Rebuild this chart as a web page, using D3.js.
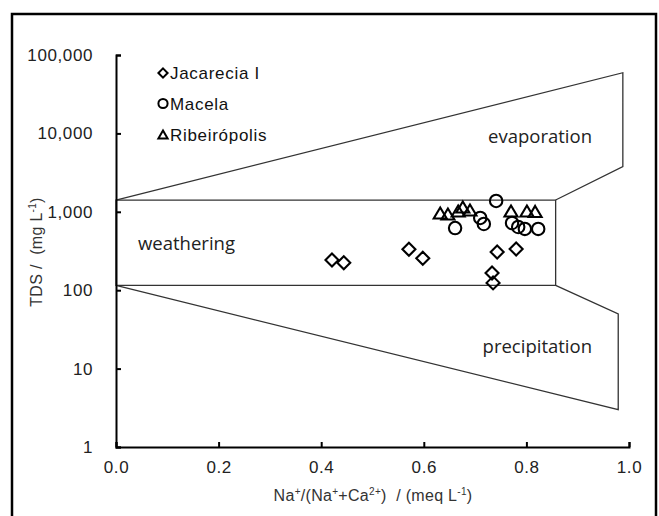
<!DOCTYPE html>
<html>
<head>
<meta charset="utf-8">
<script src="https://cdn.jsdelivr.net/npm/d3@7"></script>
<style>
  body { margin: 0; background: #fff; }
  text { font-family: Arial, "Liberation Sans", sans-serif; white-space: pre; }
</style>
</head>
<body>
<script>
// Gibbs diagram data
const seriesNames = ["Jacarecia I", "Macela", "Ribeirópolis"];
const jacareciaX = [0.421, 0.444, 0.571, 0.598, 0.733, 0.735, 0.743, 0.780];
const jacareciaTDS = [243, 224, 332, 255, 166, 124, 307, 336];
const macelaX = [0.661, 0.710, 0.717, 0.741, 0.772, 0.784, 0.797, 0.823];
const macelaTDS = [621, 834, 699, 1374, 720, 640, 604, 604];
const ribeiroX = [0.632, 0.647, 0.667, 0.676, 0.690, 0.770, 0.801, 0.817];
const ribeiroTDS = [966, 938, 1024, 1151, 1054, 1024, 1024, 1010];

// zone boundaries
const evapX = [0, 0.988, 0.988, 0.857];
const evapTDS = [1413, 59400, 3760, 1413];
const boxX = [0, 0.857, 0.857, 0];
const boxTDS = [1413, 1413, 115, 115];
const precX = [0, 0.979, 0.979, 0.857];
const precTDS = [115, 3.0, 50, 115];

const xTicks = [0, 0.2, 0.4, 0.6, 0.8, 1.0];
const yTicks = [1, 10, 100, 1000, 10000, 100000];
const zoneLabels = ["evaporation", "weathering", "precipitation"];

const w = 659, h = 516;
const svg = d3.select("body").append("svg").attr("width", w).attr("height", h);

// outer frame
svg.append("rect")
  .attr("x", 12).attr("y", 14).attr("width", 644).attr("height", 520)
  .attr("fill", "none").attr("stroke", "#000").attr("stroke-width", 2.5);

const x = d3.scaleLinear().domain([0, 1]).range([116, 629]);
const y = d3.scaleLog().domain([1, 100000]).range([447, 55]);

//Zone outlines
const line = d3.line().x(d => x(d[0])).y(d => y(d[1]));
[[evapX, evapTDS, false], [boxX, boxTDS, true], [precX, precTDS, false]].forEach(z => {
  const pts = z[0].map((v, i) => [v, z[1][i]]);
  svg.append("path")
    .attr("d", line(pts) + (z[2] ? "Z" : ""))
    .attr("fill", "none").attr("stroke", "#333").attr("stroke-width", 1.3);
});

// axes
const xAxis = svg.append("g")
  .attr("transform", "translate(0,447)")
  .call(d3.axisBottom(x).tickValues(xTicks).tickSize(-5).tickPadding(14).tickFormat(d3.format(".1f")));
const yAxis = svg.append("g")
  .attr("transform", "translate(116,0)")
  .call(d3.axisLeft(y).tickValues(yTicks).tickSize(-5).tickPadding(23).tickFormat(d3.format(",")));
[xAxis, yAxis].forEach(a => {
  a.select(".domain").attr("stroke", "#000").attr("stroke-width", 2);
  a.selectAll(".tick line").attr("stroke", "#000").attr("stroke-width", 2);
  a.selectAll(".tick text").attr("fill", "#222").style("font-size", "17px").style("font-family", "Arial");
});
xAxis.selectAll(".tick text").attr("dy", "0.71em").style("letter-spacing", "0.6px");
yAxis.selectAll(".tick text").style("letter-spacing", "0.6px");

// markers
function markerPath(type, s) {
  if (type == 0) return `M0,${-s}L${s},0L0,${s}L${-s},0Z`;
  if (type == 1) return `M${s},0A${s},${s} 0 1,1 ${-s},0A${s},${s} 0 1,1 ${s},0Z`;
  return `M0,${-s * 0.85}L${s},${s * 0.85}L${-s},${s * 0.85}Z`;
}
const series = [[jacareciaX, jacareciaTDS], [macelaX, macelaTDS], [ribeiroX, ribeiroTDS]];
const sizes = [6.5, 6.2, 6.5];
series.forEach((s, k) => {
  svg.append("g").selectAll("path")
    .data(s[0].map((v, i) => ({x: v, tds: s[1][i]})))
    .enter().append("path")
      .attr("d", markerPath(k, sizes[k]))
      .attr("transform", d => `translate(${x(d.x)},${y(d.tds)})`)
      .attr("fill", "none").attr("stroke", "#000").attr("stroke-width", 2.1);
});

// legend
const legY = [73, 103.5, 134.5];
seriesNames.forEach((n, k) => {
  svg.append("path")
    .attr("d", markerPath(k, 4.6))
    .attr("transform", `translate(163,${legY[k]})`)
    .attr("fill", "none").attr("stroke", "#000").attr("stroke-width", 2);
  svg.append("text")
    .attr("x", 170).attr("y", legY[k]).attr("dy", "0.36em")
    .style("font-size", "17px").style("letter-spacing", "0.7px").attr("fill", "#111")
    .text(n);
});

// zone labels
const zoneFont = "'Open Sans', 'Noto Sans', sans-serif";
svg.append("text").attr("x", 592).attr("y", 143).attr("text-anchor", "end")
  .style("font-family", zoneFont).style("font-size", "18.5px").attr("fill", "#222").text(zoneLabels[0]);
svg.append("text").attr("x", 138).attr("y", 250)
  .style("font-family", zoneFont).style("font-size", "18.5px").attr("fill", "#222").text(zoneLabels[1]);
svg.append("text").attr("x", 592).attr("y", 353).attr("text-anchor", "end")
  .style("font-family", zoneFont).style("font-size", "18.5px").attr("fill", "#222").text(zoneLabels[2]);

// axis titles with superscripts
function richText(sel, parts) {
  parts.forEach(p => {
    const t = sel.append("tspan").text(p[0]);
    if (p[1]) t.attr("dy", -6).style("font-size", "10px");
    else t.attr("dy", p[2] ? 6 : 0);
  });
}
const xTitle = svg.append("text").attr("x", 373).attr("y", 501).attr("text-anchor", "middle")
  .style("font-size", "16px").style("letter-spacing", "0.3px").attr("fill", "#333");
richText(xTitle, [["Na"], ["+", 1], ["/(Na", 0, 1], ["+", 1], ["+Ca", 0, 1], ["2+", 1], [")  / (meq L", 0, 1], ["-1", 1], [")", 0, 1]]);

const yTitle = svg.append("text").attr("transform", "translate(42,252) rotate(-90)").attr("text-anchor", "middle")
  .style("font-size", "16px").style("letter-spacing", "0.3px").attr("fill", "#333");
richText(yTitle, [["TDS /  (mg L"], ["-1", 1], [")", 0, 1]]);
</script>
</body>
</html>
